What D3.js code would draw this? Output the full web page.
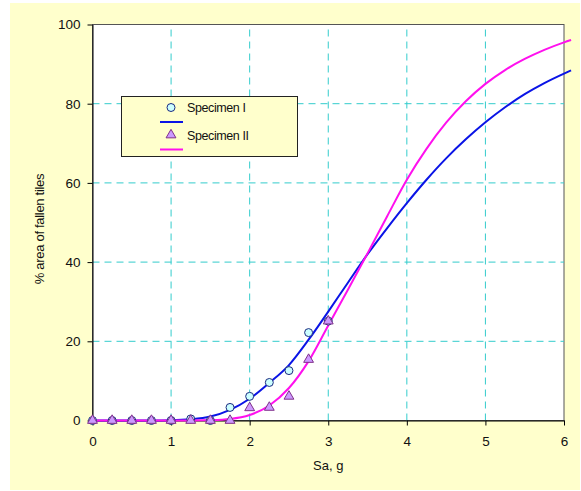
<!DOCTYPE html>
<html>
<head>
<meta charset="utf-8">
<script src="https://cdn.jsdelivr.net/npm/d3@7"></script>
<style>
  body { margin: 0; background: #fff; }
  svg { display: block; font-family: "Liberation Sans", Arial, sans-serif; }
</style>
</head>
<body>
<svg id="chart" width="581" height="491"></svg>
<script>
// --- DATA ---
const pointX = [0, 0.25, 0.5, 0.75, 1, 1.25, 1.5, 1.75, 2, 2.25, 2.5, 2.75, 3];
const specimenI = [0, 0, 0, 0, 0, 0.4, 0, 3.3, 6.1, 9.6, 12.6, 22.2, 25.1];
const specimenII = [0, 0, 0, 0, 0, 0, 0, 0, 3.2, 3.3, 6.1, 15.4, 25.1];

const curveX = [0, 0.25, 0.5, 0.75, 1, 1.25, 1.5, 1.75, 2, 2.25, 2.5, 2.75, 3, 3.25, 3.5, 3.75, 4, 4.25, 4.5, 4.75, 5, 5.25, 5.5, 5.75, 6, 6.09];
const fitI  = [0, 0, 0, 0, 0.05, 0.3, 1.0, 2.7, 5.5, 9.5, 14.0, 20.4, 27.5, 34.8, 42.0, 48.6, 54.9, 60.8, 66.2, 71.0, 75.3, 79.1, 82.4, 85.2, 87.6, 88.4];
const fitII = [0, 0, 0, 0, 0, 0.02, 0.1, 0.4, 1.4, 3.8, 8.2, 15.0, 24.0, 33.0, 42.2, 51.6, 60.8, 68.6, 75.2, 80.6, 85.0, 88.5, 91.3, 93.6, 95.5, 96.1];

const xTicks = [0, 1, 2, 3, 4, 5, 6];
const yTicks = [0, 20, 40, 60, 80, 100];

// --- SETUP ---
const svg = d3.select("#chart");
const x = d3.scaleLinear().domain([0, 6]).range([92.5, 564]);
const y = d3.scaleLinear().domain([0, 100]).range([420.5, 24.5]);

svg.append("rect").attr("x", 10).attr("y", 3).attr("width", 570).attr("height", 487).style("fill", "#ffffcc");
svg.append("rect").attr("x", x(0)).attr("y", y(100)).attr("width", x(6) - x(0)).attr("height", y(0) - y(100))
    .style("fill", "#fff").style("stroke", "#555").style("stroke-width", 1);

// grid
const grid = svg.append("g").style("stroke", "#33cccc").style("stroke-dasharray", "7,5").style("stroke-width", 1);
grid.selectAll(".vg").data(xTicks.slice(1, -1)).join("line")
    .attr("x1", d => x(d)).attr("x2", d => x(d)).attr("y1", y(0)).attr("y2", y(100));
grid.selectAll(".hg").data(yTicks.slice(1, -1)).join("line")
    .attr("y1", d => y(d)).attr("y2", d => y(d)).attr("x1", x(0)).attr("x2", x(6));

// axes
const xAxis = svg.append("g").attr("transform", `translate(0,${y(0)})`)
    .call(d3.axisBottom(x).tickValues(xTicks).tickFormat(d3.format("d")).tickSize(5).tickSizeOuter(0).tickPadding(11));
const yAxis = svg.append("g").attr("transform", `translate(${x(0)},0)`)
    .call(d3.axisLeft(y).tickValues(yTicks).tickFormat(d3.format("d")).tickSize(5).tickSizeOuter(0).tickPadding(7));
[xAxis, yAxis].forEach(a => {
    a.select(".domain").style("stroke", "#000");
    a.selectAll(".tick line").style("stroke", "#000");
    a.selectAll("text").style("font-size", "13.5px").style("fill", "#111").style("font-family", "Liberation Sans, Arial, sans-serif");
});

svg.append("text").attr("x", (x(0) + x(6)) / 2).attr("y", 470).attr("text-anchor", "middle")
    .style("font-size", "13px").style("fill", "#111").text("Sa, g");
svg.append("text").attr("transform", `translate(44,229) rotate(-90)`).attr("text-anchor", "middle")
    .style("font-size", "13px").style("fill", "#111").style("letter-spacing", "-0.3px").text("% area of fallen tiles");

// --- CURVES ---
const line = d3.line().x(d => x(d[0])).y(d => y(d[1])).curve(d3.curveMonotoneX);
svg.append("path").datum(curveX.map((v, i) => [v, fitI[i]])).attr("d", line)
    .style("fill", "none").style("stroke", "#0a14e6").style("stroke-width", 2);
svg.append("path").datum(curveX.map((v, i) => [v, fitII[i]])).attr("d", line)
    .style("fill", "none").style("stroke", "#ff10ee").style("stroke-width", 2);

// --- MARKERS ---
svg.append("g").selectAll("circle").data(pointX.map((v, i) => [v, specimenI[i]])).join("circle")
    .attr("cx", d => x(d[0])).attr("cy", d => y(d[1])).attr("r", 4)
    .style("fill", "#ccffff").style("stroke", "#1a2a80").style("stroke-width", 1);
const tri = d3.symbol().type(d3.symbolTriangle).size(42);
svg.append("g").selectAll("path").data(pointX.map((v, i) => [v, specimenII[i]])).join("path")
    .attr("d", tri).attr("transform", d => `translate(${x(d[0])},${y(d[1])})`)
    .style("fill", "#cc99ff").style("stroke", "#80308a").style("stroke-width", 1);

// --- LEGEND ---
const lg = svg.append("g");
lg.append("rect").attr("x", 121.5).attr("y", 96.5).attr("width", 176).attr("height", 60)
    .style("fill", "#ffffcc").style("stroke", "#222").style("stroke-width", 1);
lg.append("circle").attr("cx", 171).attr("cy", 107.5).attr("r", 4)
    .style("fill", "#ccffff").style("stroke", "#1a2a80");
lg.append("line").attr("x1", 160).attr("x2", 183).attr("y1", 122).attr("y2", 122)
    .style("stroke", "#0a14e6").style("stroke-width", 2);
lg.append("path").attr("d", tri).attr("transform", "translate(171,135)")
    .style("fill", "#cc99ff").style("stroke", "#80308a");
lg.append("line").attr("x1", 160).attr("x2", 183).attr("y1", 149.5).attr("y2", 149.5)
    .style("stroke", "#ff10ee").style("stroke-width", 2);
lg.append("text").attr("x", 187).attr("y", 112).style("font-size", "12.5px").style("letter-spacing", "-0.4px").style("fill", "#111").text("Specimen I");
lg.append("text").attr("x", 187).attr("y", 140).style("font-size", "12.5px").style("letter-spacing", "-0.4px").style("fill", "#111").text("Specimen II");
</script>
</body>
</html>
